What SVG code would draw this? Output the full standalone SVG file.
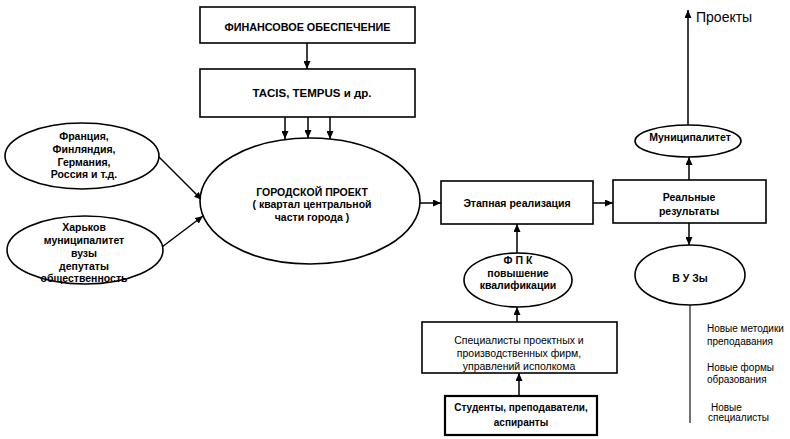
<svg xmlns="http://www.w3.org/2000/svg" width="790" height="439" viewBox="0 0 790 439">
<defs>
<marker id="ah" markerUnits="userSpaceOnUse" markerWidth="9" markerHeight="7" refX="8" refY="3.5" orient="auto">
<path d="M0,0 L8,3.5 L0,7 z" fill="#000"/>
</marker>
<style>
.s{fill:#fff;stroke:#000;stroke-width:1.6}
.s2{fill:#fff;stroke:#000;stroke-width:2.2}
.b{font-family:"Liberation Sans",Arial,sans-serif;font-weight:bold;font-size:10.5px;fill:#000;text-anchor:middle}
.n{font-family:"Liberation Sans",Arial,sans-serif;font-size:10.5px;fill:#000;text-anchor:middle}
.l{font-family:"Liberation Sans",Arial,sans-serif;font-size:10px;fill:#000}
.c{stroke:#000;stroke-width:1.5;fill:none;marker-end:url(#ah)}
</style>
</defs>
<rect width="790" height="439" fill="#fff"/>

<g id="connectors">
<line class="c" x1="307" y1="43" x2="307" y2="69"/>
<line class="c" x1="285" y1="117" x2="285" y2="139"/>
<line class="c" x1="308" y1="117" x2="308" y2="138"/>
<line class="c" x1="330" y1="117" x2="330" y2="139"/>
<line class="c" x1="159" y1="157" x2="202" y2="200"/>
<line class="c" x1="162" y1="247" x2="203" y2="216"/>
<line class="c" x1="420" y1="203" x2="441" y2="203"/>
<line class="c" x1="593" y1="203" x2="613" y2="203"/>
<line class="c" x1="517" y1="253" x2="517" y2="224"/>
<line class="c" x1="517" y1="322" x2="517" y2="307"/>
<line class="c" x1="519" y1="396" x2="519" y2="373"/>
<line class="c" x1="689" y1="180" x2="689" y2="157"/>
<line class="c" x1="689" y1="223" x2="689" y2="245"/>
<line class="c" x1="688" y1="126" x2="688" y2="10"/>
<line x1="690" y1="305" x2="690" y2="423" stroke="#000" stroke-width="1.1"/>
</g>

<g id="fin">
<rect class="s" x="200" y="7" width="215" height="36"/>
<text class="b" x="307.5" y="31" style="font-size:10.8px">ФИНАНСОВОЕ ОБЕСПЕЧЕНИЕ</text>
</g>

<g id="tacis">
<rect class="s" x="200" y="69" width="215" height="48"/>
<text class="b" x="312" y="97" style="font-size:11.5px">TACIS, TEMPUS и др.</text>
</g>

<g id="countries">
<ellipse class="s" cx="82" cy="156" rx="77" ry="33"/>
<text class="b" x="84" y="140">Франция,</text>
<text class="b" x="84" y="153">Финляндия,</text>
<text class="b" x="84" y="166">Германия,</text>
<text class="b" x="84" y="178">Россия и т.д.</text>
</g>

<g id="kharkov">
<ellipse class="s" cx="85" cy="250" rx="78" ry="34"/>
<text class="b" x="84" y="231">Харьков</text>
<text class="b" x="84" y="244">муниципалитет</text>
<text class="b" x="84" y="257">вузы</text>
<text class="b" x="84" y="270">депутаты</text>
<text class="b" x="84" y="282">общественность</text>
</g>

<g id="city">
<ellipse class="s" cx="310" cy="201" rx="110" ry="63"/>
<text class="b" x="312" y="196">ГОРОДСКОЙ ПРОЕКТ</text>
<text class="b" x="312" y="208">( квартал центральной</text>
<text class="b" x="312" y="221">части города )</text>
</g>

<g id="stage">
<rect class="s" x="441" y="181" width="152" height="43"/>
<text class="b" x="517" y="207">Этапная реализация</text>
</g>

<g id="fpk">
<ellipse class="s" cx="518" cy="280" rx="54" ry="27"/>
<text class="b" x="518" y="264">Ф П К</text>
<text class="b" x="518" y="277">повышение</text>
<text class="b" x="518" y="289">квалификации</text>
</g>

<g id="specialists">
<rect class="s" x="422" y="322" width="195" height="51"/>
<text class="n" x="519" y="344">Специалисты проектных и</text>
<text class="n" x="519" y="357">производственных фирм,</text>
<text class="n" x="519" y="370">управлений исполкома</text>
</g>

<g id="students">
<rect class="s2" x="445" y="396" width="152" height="39"/>
<text class="b" x="521" y="411" style="font-size:10px">Студенты, преподаватели,</text>
<text class="b" x="521" y="426" style="font-size:10px">аспиранты</text>
</g>

<g id="results">
<rect class="s" x="613" y="180" width="153" height="43"/>
<text class="b" x="689" y="201">Реальные</text>
<text class="b" x="689" y="215">результаты</text>
</g>

<g id="municipality">
<ellipse class="s" cx="688" cy="141" rx="53" ry="16"/>
<text class="b" x="690" y="141">Муниципалитет</text>
</g>

<g id="vuzy">
<ellipse class="s" cx="690" cy="275" rx="55" ry="30"/>
<text class="b" x="690" y="282">В У Зы</text>
</g>

<g id="projects">
<text class="l" x="696" y="22" style="font-size:14px">Проекты</text>
</g>

<g id="outcomes">
<text class="l" x="707" y="332">Новые методики</text>
<text class="l" x="707" y="345">преподавания</text>
<text class="l" x="707" y="371">Новые формы</text>
<text class="l" x="707" y="383">образования</text>
<text class="l" x="711" y="411">Новые</text>
<text class="l" x="708" y="421">специалисты</text>
</g>
</svg>
